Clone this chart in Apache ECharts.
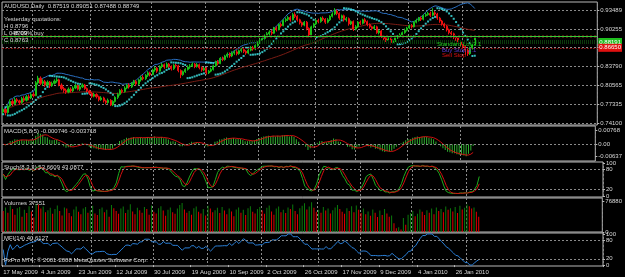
<!DOCTYPE html>
<html><head><meta charset="utf-8">
<script src="https://cdn.jsdelivr.net/npm/echarts@6/dist/echarts.min.js"></script>
<style>html,body{margin:0;padding:0;background:#000;}#c{width:625px;height:277px;}</style>
</head><body><div id="c"></div><script>
// ---- data (AUDUSD daily) ----
const opens=[0.7600,0.7640,0.7590,0.7700,0.7780,0.7740,0.7810,0.7790,0.7760,0.7830,
0.7800,0.7860,0.7840,0.7900,0.7880,0.8100,0.8180,0.8090,0.8120,0.8060,
0.8110,0.8050,0.8090,0.8130,0.8150,0.8060,0.8000,0.7970,0.7940,0.7990,
0.7960,0.8010,0.8050,0.7990,0.8030,0.8060,0.8000,0.7960,0.7920,0.7870,
0.7900,0.7860,0.7810,0.7840,0.7790,0.7760,0.7800,0.7720,0.7780,0.7850,
0.7900,0.7970,0.7950,0.8010,0.8060,0.8030,0.8090,0.8120,0.8080,0.8150,
0.8190,0.8170,0.8230,0.8270,0.8240,0.8320,0.8350,0.8300,0.8380,0.8410,
0.8370,0.8420,0.8380,0.8340,0.8400,0.8390,0.8310,0.8240,0.8290,0.8330,
0.8370,0.8390,0.8420,0.8380,0.8410,0.8360,0.8320,0.8350,0.8270,0.8300,
0.8330,0.8390,0.8460,0.8430,0.8520,0.8500,0.8560,0.8590,0.8560,0.8610,
0.8630,0.8600,0.8650,0.8670,0.8640,0.8610,0.8660,0.8700,0.8680,0.8740,
0.8790,0.8830,0.8860,0.8900,0.8940,0.8970,0.8950,0.9040,0.9010,0.9100,
0.9080,0.9170,0.9190,0.9220,0.9180,0.9270,0.9240,0.9180,0.9130,0.9090,
0.9140,0.9030,0.8920,0.9060,0.9110,0.9170,0.9150,0.9210,0.9190,0.9140,
0.9180,0.9240,0.9280,0.9330,0.9290,0.9210,0.9250,0.9180,0.9200,0.9110,
0.9150,0.9020,0.9060,0.9140,0.9120,0.9180,0.9150,0.9100,0.9060,0.9030,
0.9060,0.8960,0.8990,0.8900,0.8860,0.8830,0.8850,0.8790,0.8820,0.8870,
0.8900,0.8920,0.8960,0.9000,0.9040,0.9080,0.9060,0.9140,0.9170,0.9210,
0.9190,0.9250,0.9270,0.9290,0.9260,0.9300,0.9280,0.9210,0.9160,0.9110,
0.9070,0.9010,0.8960,0.8940,0.8880,0.8870,0.8800,0.8760,0.8720,0.8660,
0.8600,0.8700,0.8752];
const closes=[0.7640,0.7590,0.7700,0.7780,0.7740,0.7810,0.7790,0.7760,0.7830,0.7800,
0.7860,0.7840,0.7900,0.7880,0.8100,0.8180,0.8090,0.8120,0.8060,0.8110,
0.8050,0.8090,0.8130,0.8150,0.8060,0.8000,0.7970,0.7940,0.7990,0.7960,
0.8010,0.8050,0.7990,0.8030,0.8060,0.8000,0.7960,0.7920,0.7870,0.7900,
0.7860,0.7810,0.7840,0.7790,0.7760,0.7800,0.7720,0.7780,0.7850,0.7900,
0.7970,0.7950,0.8010,0.8060,0.8030,0.8090,0.8120,0.8080,0.8150,0.8190,
0.8170,0.8230,0.8270,0.8240,0.8320,0.8350,0.8300,0.8380,0.8410,0.8370,
0.8420,0.8380,0.8340,0.8400,0.8390,0.8310,0.8240,0.8290,0.8330,0.8370,
0.8390,0.8420,0.8380,0.8410,0.8360,0.8320,0.8350,0.8270,0.8300,0.8330,
0.8390,0.8460,0.8430,0.8520,0.8500,0.8560,0.8590,0.8560,0.8610,0.8630,
0.8600,0.8650,0.8670,0.8640,0.8610,0.8660,0.8700,0.8680,0.8740,0.8790,
0.8830,0.8860,0.8900,0.8940,0.8970,0.8950,0.9040,0.9010,0.9100,0.9080,
0.9170,0.9190,0.9220,0.9180,0.9270,0.9240,0.9180,0.9130,0.9090,0.9140,
0.9030,0.8920,0.9060,0.9110,0.9170,0.9150,0.9210,0.9190,0.9140,0.9180,
0.9240,0.9280,0.9330,0.9290,0.9210,0.9250,0.9180,0.9200,0.9110,0.9150,
0.9020,0.9060,0.9140,0.9120,0.9180,0.9150,0.9100,0.9060,0.9030,0.9060,
0.8960,0.8990,0.8900,0.8860,0.8830,0.8850,0.8790,0.8820,0.8870,0.8900,
0.8920,0.8960,0.9000,0.9040,0.9080,0.9060,0.9140,0.9170,0.9210,0.9190,
0.9250,0.9270,0.9290,0.9260,0.9300,0.9280,0.9210,0.9160,0.9110,0.9070,
0.9010,0.8960,0.8940,0.8880,0.8870,0.8800,0.8760,0.8720,0.8660,0.8600,
0.8700,0.8752,0.8875];
const lows=[0.7560,0.7540,0.7570,0.7680,0.7700,0.7720,0.7760,0.7720,0.7740,0.7770,
0.7780,0.7800,0.7820,0.7850,0.7870,0.8070,0.8060,0.8050,0.8030,0.8040,
0.8010,0.8030,0.8070,0.8100,0.8040,0.7970,0.7930,0.7910,0.7920,0.7930,
0.7940,0.7990,0.7970,0.7960,0.8010,0.7980,0.7930,0.7890,0.7840,0.7850,
0.7830,0.7780,0.7790,0.7760,0.7730,0.7740,0.7700,0.7700,0.7760,0.7820,
0.7880,0.7920,0.7930,0.7990,0.8000,0.8010,0.8060,0.8050,0.8060,0.8120,
0.8140,0.8150,0.8200,0.8210,0.8230,0.8290,0.8270,0.8290,0.8350,0.8340,
0.8350,0.8350,0.8310,0.8320,0.8360,0.8280,0.8180,0.8220,0.8270,0.8310,
0.8340,0.8370,0.8350,0.8360,0.8330,0.8290,0.8300,0.8240,0.8250,0.8280,
0.8310,0.8370,0.8400,0.8420,0.8470,0.8480,0.8530,0.8530,0.8540,0.8580,
0.8570,0.8580,0.8620,0.8610,0.8580,0.8590,0.8640,0.8650,0.8660,0.8720,
0.8770,0.8800,0.8840,0.8880,0.8910,0.8920,0.8940,0.8980,0.9000,0.9050,
0.9070,0.9140,0.9160,0.9150,0.9170,0.9210,0.9150,0.9100,0.9060,0.9070,
0.9000,0.8880,0.8910,0.9040,0.9090,0.9120,0.9130,0.9160,0.9110,0.9120,
0.9160,0.9220,0.9260,0.9260,0.9180,0.9190,0.9150,0.9150,0.9080,0.9090,
0.8990,0.9000,0.9040,0.9090,0.9100,0.9120,0.9070,0.9030,0.9000,0.9010,
0.8940,0.8930,0.8870,0.8830,0.8800,0.8790,0.8760,0.8770,0.8800,0.8850,
0.8870,0.8900,0.8940,0.8980,0.9020,0.9030,0.9050,0.9120,0.9150,0.9160,
0.9170,0.9230,0.9250,0.9230,0.9240,0.9250,0.9180,0.9130,0.9080,0.9040,
0.8980,0.8930,0.8900,0.8850,0.8820,0.8770,0.8720,0.8680,0.8580,0.8560,
0.8580,0.8670,0.8749];
const highs=[0.7680,0.7670,0.7730,0.7810,0.7820,0.7850,0.7840,0.7810,0.7860,0.7870,
0.7890,0.7900,0.7930,0.7940,0.8130,0.8220,0.8210,0.8160,0.8150,0.8140,
0.8130,0.8120,0.8160,0.8190,0.8170,0.8090,0.8030,0.8000,0.8020,0.8020,
0.8040,0.8080,0.8070,0.8060,0.8090,0.8080,0.8020,0.7980,0.7940,0.7930,
0.7920,0.7880,0.7870,0.7860,0.7810,0.7830,0.7820,0.7800,0.7870,0.7930,
0.7990,0.8000,0.8040,0.8080,0.8090,0.8110,0.8150,0.8150,0.8170,0.8220,
0.8230,0.8250,0.8300,0.8290,0.8340,0.8380,0.8370,0.8400,0.8440,0.8430,
0.8450,0.8440,0.8400,0.8420,0.8430,0.8410,0.8330,0.8310,0.8350,0.8400,
0.8420,0.8450,0.8440,0.8440,0.8430,0.8380,0.8370,0.8370,0.8320,0.8360,
0.8410,0.8480,0.8490,0.8540,0.8550,0.8580,0.8620,0.8620,0.8640,0.8660,
0.8660,0.8670,0.8700,0.8700,0.8660,0.8680,0.8730,0.8730,0.8760,0.8810,
0.8860,0.8890,0.8930,0.8970,0.9000,0.9010,0.9060,0.9070,0.9120,0.9130,
0.9190,0.9220,0.9250,0.9250,0.9300,0.9310,0.9260,0.9200,0.9150,0.9160,
0.9160,0.9050,0.9080,0.9130,0.9190,0.9200,0.9230,0.9240,0.9210,0.9210,
0.9260,0.9310,0.9380,0.9360,0.9310,0.9270,0.9270,0.9230,0.9220,0.9170,
0.9170,0.9090,0.9160,0.9170,0.9200,0.9210,0.9170,0.9120,0.9080,0.9090,
0.9080,0.9010,0.9010,0.8920,0.8880,0.8880,0.8870,0.8840,0.8890,0.8920,
0.8950,0.8980,0.9030,0.9060,0.9100,0.9110,0.9160,0.9200,0.9230,0.9240,
0.9270,0.9300,0.9320,0.9320,0.9380,0.9330,0.9300,0.9230,0.9180,0.9130,
0.9090,0.9030,0.8990,0.8960,0.8910,0.8890,0.8830,0.8790,0.8740,0.8700,
0.8720,0.8780,0.8905];
const volumes=[52000,61000,48000,66000,57000,43000,59000,62000,38000,55000,
47000,64000,51000,36000,70000,68000,58000,63000,49000,54000,
60000,45000,57000,66000,52000,41000,61000,58000,47000,39000,
56000,63000,50000,44000,58000,62000,48000,53000,65000,46000,
42000,57000,61000,49000,55000,38000,67000,59000,52000,45000,
58000,63000,47000,55000,69000,51000,44000,60000,54000,48000,
62000,57000,43000,66000,50000,46000,59000,64000,53000,40000,
55000,61000,49000,45000,58000,67000,72000,56000,48000,52000,
43000,59000,63000,50000,46000,57000,41000,65000,58000,49000,
54000,60000,47000,62000,53000,44000,58000,51000,39000,56000,
61000,48000,55000,42000,59000,64000,50000,46000,57000,62000,
53000,45000,60000,66000,51000,43000,58000,63000,49000,55000,
47000,61000,57000,68000,52000,44000,59000,65000,71000,56000,
63000,74000,60000,50000,55000,48000,62000,53000,58000,46000,
54000,61000,67000,57000,50000,45000,59000,52000,64000,49000,
66000,55000,47000,58000,44000,51000,40000,56000,48000,37000,
53000,42000,57000,46000,38000,41000,22000,9000,12000,6000,
35000,18000,43000,47000,52000,39000,45000,56000,50000,42000,
54000,48000,58000,44000,61000,52000,57000,49000,63000,55000,
59000,51000,62000,47000,65000,56000,60000,68000,64000,58000,
61000,50000,37551];
// x-axis date labels (one every 16 bars) and month-start bars (vertical grid)
const dateLabels=['17 May 2009','4 Jun 2009','23 Jun 2009','12 Jul 2009','30 Jul 2009','19 Aug 2009','10 Sep 2009','2 Oct 2009','26 Oct 2009','17 Nov 2009','9 Dec 2009','4 Jan 2010','26 Jan 2010'];
const monthStartBars=[13,38,64,87,110,134,152,174,197];
const priceTicks=[0.74100,0.77335,0.80565,0.83790,0.87020,0.90255,0.93489];
const macdTicks=[0.00768,0,-0.00637];
const oscTicks=[100,80,20,0];
const volTicks=[76880,0];
// horizontal level lines on the price pane
const levelBrown=0.8911, levelGreen=0.8862, levelDarkGreen=0.8795, levelRed1=0.8705, levelRed2=0.8663;
const boxGreenText='0.88191', boxRedText='0.86650';
const emptySlots=52;

// ---- indicators (standard MT4 definitions computed from the bars above) ----
function ema(src,n){const k=2/(n+1);const o=[];let e=src[0];for(let i=0;i<src.length;i++){e=i===0?src[0]:src[i]*k+e*(1-k);o.push(e);}return o;}
function sma(src,n){const o=[];for(let i=0;i<src.length;i++){const s=Math.max(0,i-n+1);let t=0;for(let j=s;j<=i;j++)t+=src[j];o.push(t/(i-s+1));}return o;}
function stdev(src,n){const m=sma(src,n);const o=[];for(let i=0;i<src.length;i++){const s=Math.max(0,i-n+1);let t=0;for(let j=s;j<=i;j++)t+=(src[j]-m[i])**2;o.push(Math.sqrt(t/(i-s+1)));}return o;}
function psar(h,l,step,mx){const o=[];let up=true,af=step,ep=h[0],sar=l[0];o.push(sar);
 for(let i=1;i<h.length;i++){sar=sar+af*(ep-sar);
  if(up){sar=Math.min(sar,l[i-1],l[Math.max(0,i-2)]);if(l[i]<sar){up=false;sar=ep;ep=l[i];af=step;}else if(h[i]>ep){ep=h[i];af=Math.min(af+step,mx);}}
  else{sar=Math.max(sar,h[i-1],h[Math.max(0,i-2)]);if(h[i]>sar){up=true;sar=ep;ep=h[i];af=step;}else if(l[i]<ep){ep=l[i];af=Math.min(af+step,mx);}}
  o.push(sar);}return o;}
function stoch(h,l,c,k,slow){const num=[],den=[];for(let i=0;i<c.length;i++){const s=Math.max(0,i-k+1);let hh=-1e9,ll=1e9;for(let j=s;j<=i;j++){hh=Math.max(hh,h[j]);ll=Math.min(ll,l[j]);}num.push(c[i]-ll);den.push(hh-ll);}
 const o=[];for(let i=0;i<c.length;i++){const s=Math.max(0,i-slow+1);let a=0,b=0;for(let j=s;j<=i;j++){a+=num[j];b+=den[j];}o.push(b?100*a/b:50);}return o;}
function mfi(h,l,c,v,n){const tp=c.map((x,i)=>(h[i]+l[i]+x)/3);const o=[];for(let i=0;i<c.length;i++){let p=0,q=0;for(let j=Math.max(1,i-n+1);j<=i;j++){const f=tp[j]*v[j];if(tp[j]>tp[j-1])p+=f;else if(tp[j]<tp[j-1])q+=f;}o.push(p+q?100*p/(p+q):50);}return o;}

const N=closes.length, slots=N+emptySlots;
const cats=[];for(let i=0;i<slots;i++)cats.push(String(i));
const candles=closes.map((c,i)=>[opens[i],c,lows[i],highs[i]]);
const ema5=ema(closes,5),ema8=ema(closes,8);
const macdMain=ema5.map((v,i)=>v-ema8[i]);
const macdSig=sma(macdMain,5);
const mid20=sma(closes,20),sd20=stdev(closes,20);
const upperBand=mid20.map((m,i)=>m+2*sd20[i]);
const slowMA=sma(closes,50);
const sar=psar(highs,lows,0.02,0.2);
const stK=stoch(highs,lows,closes,8,3);
const stD=sma(stK,3);
const mfiLine=mfi(highs,lows,closes,volumes,14);
const volData=volumes.map((v,i)=>({value:v,itemStyle:{color:(i>0&&v>volumes[i-1])?'#0b7a0b':'#e00000'}}));

const TXT='#d8d8d8', FS=6, FF='Liberation Sans, Arial, sans-serif';
const gridLine={show:true,lineStyle:{color:'#8a8a8a',type:[2,2],width:1}};
const grids=[
 {left:2,right:22,top:2,height:123},
 {left:2,right:22,top:126,height:35},
 {left:2,right:22,top:162,height:35},
 {left:2,right:22,top:198,height:34},
 {left:2,right:22,top:233,height:33}
].map(g=>Object.assign(g,{show:true,borderColor:'#b8b8b8',borderWidth:1,backgroundColor:'#000'}));

const xAxes=grids.map((g,k)=>({type:'category',gridIndex:k,data:cats,boundaryGap:true,
 axisLine:{show:false},axisTick:{show:k===4,interval:(i)=>i%16===0&&i<N,length:2,lineStyle:{color:'#b8b8b8'}},
 axisLabel:{show:k===4,interval:(i)=>i%16===0&&i<N,formatter:(v,i)=>dateLabels[i/16]||'',align:'left',color:TXT,fontSize:FS,fontFamily:FF,margin:3},
 splitLine:{show:true,interval:(i)=>monthStartBars.indexOf(i)>=0,lineStyle:{color:'#8a8a8a',type:[2,2],width:1}}}));

function yAx(k,min,max,ticks,fmt,split){return {type:'value',gridIndex:k,position:'right',min:min,max:max,scale:true,
 axisLine:{show:false},axisTick:{show:true,customValues:ticks,length:2,lineStyle:{color:'#b8b8b8'}},
 axisLabel:{show:true,customValues:ticks,formatter:fmt,color:TXT,fontSize:FS,fontFamily:FF,margin:3},
 splitLine:split?gridLine:{show:false}};}
const yAxes=[
 yAx(0,0.73757,0.94862,priceTicks,v=>v.toFixed(5),true),
 yAx(1,-0.00907,0.00984,macdTicks,v=>v===0?'0.00':v.toFixed(5),false),
 yAx(2,-3,103,oscTicks,v=>String(v),false),
 yAx(3,0,84300,volTicks,v=>String(v),false),
 yAx(4,-3,103,oscTicks,v=>String(v),false)
];

function hLine(val,color,width,type){return {yAxis:val,lineStyle:{color:color,width:width,type:type},label:{show:false}};}
const markLevels=[
 hLine(levelBrown,'#4a160f',3,[2,2]),
 hLine(levelDarkGreen,'#0b3a0b',4,[1,1]),
 hLine(levelRed1,'#8a1010',1,[1.5,1.5]),
 hLine(levelRed2,'#8a1010',1,[1.5,1.5]),
 hLine(levelGreen,'#37c837',1,'solid'),
 {yAxis:0.8817,lineStyle:{color:'rgba(0,0,0,0)',width:0},label:{show:true,position:'end',distance:1,formatter:boxGreenText,color:'#ffffff',backgroundColor:'#1fbf1f',padding:[1,1,1,1],fontSize:FS,fontFamily:FF}},
 {yAxis:0.8663,lineStyle:{color:'rgba(0,0,0,0)',width:0},label:{show:true,position:'end',distance:1,formatter:boxRedText,color:'#ffffff',backgroundColor:'#e01010',padding:[1,1,1,1],fontSize:FS,fontFamily:FF}}
];

function lineS(x,y,data,color,w,z){return {type:'line',xAxisIndex:x,yAxisIndex:y,data:data,showSymbol:false,symbol:'none',lineStyle:{color:color,width:w||1},silent:true,animation:false,z:z||2};}

const series=[
 {type:'candlestick',xAxisIndex:0,yAxisIndex:0,data:candles,barWidth:1.6,animation:false,z:3,
  itemStyle:{color:'#18c018',color0:'#ee1010',borderColor:'#18c018',borderColor0:'#ee1010',borderWidth:1},
  markLine:{silent:true,symbol:'none',animation:false,data:markLevels}},
 lineS(0,0,upperBand,'#2a6fc0',1),
 lineS(0,0,slowMA,'#7a1c14',1),
 {type:'scatter',xAxisIndex:0,yAxisIndex:0,data:sar,symbol:'rect',symbolSize:2,itemStyle:{color:'#3fe6e6'},silent:true,animation:false,z:4},
 {type:'bar',xAxisIndex:1,yAxisIndex:1,data:macdMain,barWidth:1,itemStyle:{color:'#2fae2f'},silent:true,animation:false,
  markLine:{silent:true,symbol:'none',animation:false,label:{show:false},data:[{yAxis:0,lineStyle:{color:'#8a8a8a',type:[2,2],width:1}}]}},
 lineS(1,1,macdSig,'#d01010',1,3),
 lineS(2,2,stK,'#1faa1f',1,3),
 {...lineS(2,2,stD,'#d01010',1,4),markLine:{silent:true,symbol:'none',animation:false,label:{show:false},data:[{yAxis:80,lineStyle:{color:'#8a8a8a',type:[2,2],width:1}},{yAxis:20,lineStyle:{color:'#8a8a8a',type:[2,2],width:1}}]}},
 {type:'bar',xAxisIndex:3,yAxisIndex:3,data:volData,barWidth:1,silent:true,animation:false},
 {...lineS(4,4,mfiLine,'#2a7fd6',1,3),markLine:{silent:true,symbol:'none',animation:false,label:{show:false},data:[{yAxis:80,lineStyle:{color:'#8a8a8a',type:[2,2],width:1}},{yAxis:20,lineStyle:{color:'#8a8a8a',type:[2,2],width:1}}]}}
];

function txt(x,y,t,color,size){return {type:'text',left:x,top:y,silent:true,z:100,style:{text:t,fill:color||TXT,fontSize:size||FS,fontFamily:FF}};}
const graphics=[
 txt(4,3,'AUDUSD,Daily  0.87519 0.89051 0.87488 0.88749'),
 txt(4,16,'Yesterday quotations:'),
 txt(4,23,'H 0.8796'),
 txt(4,30,'L 0.8709'),
 txt(12,30,'48.09% buy'),
 txt(4,37,'C 0.8763'),
 txt(4,128,'MACD(5,8,5) -0.000746 -0.003718'),
 txt(4,164,'Stoch(8,3,3) 53.6609 43.0877'),
 txt(4,200,'Volumes 37551'),
 txt(4,235,'MFI(14) 40.6127'),
 txt(4,257,'FxPro MT4, © 2001-2008 MetaQuotes Software Corp.'),
 txt(437,41,'Standard Lot 3.1','#22d022'),
 txt(442,47,'Buy Stop 2.1','#5a3cd0'),
 txt(442,52,'Sell Stop','#e01010')
];

const chart=echarts.init(document.getElementById('c'),null,{renderer:'canvas'});
chart.setOption({backgroundColor:'#000',animation:false,grid:grids,xAxis:xAxes,yAxis:yAxes,series:series,graphic:graphics});
</script></body></html>
